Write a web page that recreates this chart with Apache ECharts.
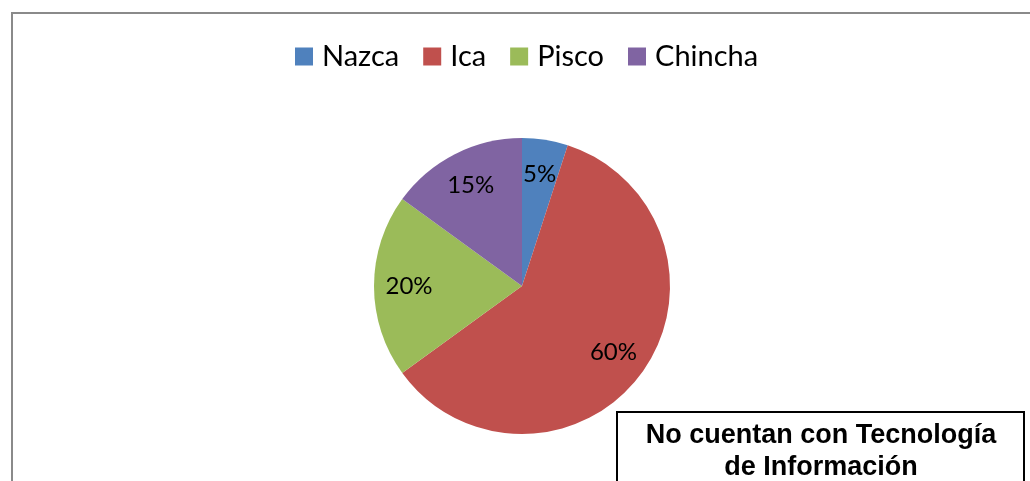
<!DOCTYPE html>
<html>
	<head>
		<meta charset="UTF-8">
		<title></title>
		<style>
			html, body { margin: 0; padding: 0; background: #fff; }
		</style>
	</head>
	<body>
		 <div id="main" style="width: 1030px;height:481px;"></div>
		 <script src="https://cdn.jsdelivr.net/npm/echarts@6/dist/echarts.min.js"></script>
		 <script>
		 	var categories = ['Nazca', 'Ica', 'Pisco', 'Chincha'];
		 	var values = [5, 60, 20, 15];
		 	var colors = ['#4F81BD', '#C0504D', '#9BBB59', '#8064A2'];
		 	var titleLines = ['No cuentan con Tecnología', 'de Información'];

		 	var pieData = categories.map(function (name, i) {
		 		return { name: name, value: values[i], itemStyle: { color: colors[i] } };
		 	});

		 	var chart = echarts.init(document.getElementById('main'));
		 	chart.setOption({
		 		animation: false,
		 		legend: {
		 			data: categories,
		 			left: 295,
		 			top: 42,
		 			padding: 0,
		 			itemWidth: 18,
		 			itemHeight: 18,
		 			itemGap: 24,
		 			icon: 'rect',
		 			textStyle: {
		 				fontFamily: 'Lato',
		 				fontSize: 29,
		 				color: '#000',
		 				padding: [0, 0, 0, 4]
		 			}
		 		},
		 		series: [{
		 			type: 'pie',
		 			center: [522, 286],
		 			radius: 148,
		 			startAngle: 90,
		 			clockwise: true,
		 			label: { show: false },
		 			labelLine: { show: false },
		 			itemStyle: { borderWidth: 0 },
		 			emphasis: { disabled: true },
		 			data: pieData
		 		}, {
		 			// transparent copy, only to put the labels at ~3/4 of the radius
		 			type: 'pie',
		 			center: [522, 286],
		 			radius: [72, 148],
		 			startAngle: 90,
		 			clockwise: true,
		 			silent: true,
		 			legendHoverLink: false,
		 			itemStyle: { color: 'rgba(0,0,0,0)', borderWidth: 0 },
		 			label: {
		 				show: true,
		 				position: 'inside',
		 				formatter: function (p) { return p.value + '%'; },
		 				fontFamily: 'Lato',
		 				fontSize: 24,
		 				color: '#000'
		 			},
		 			labelLine: { show: false },
		 			emphasis: { disabled: true },
		 			data: categories.map(function (name, i) {
		 				return { name: name + ' ', value: values[i] };
		 			})
		 		}],
		 		graphic: [{
		 			type: 'rect',
		 			shape: { x: 12, y: 13, width: 1040, height: 520 },
		 			style: { fill: null, stroke: '#8a8a8a', lineWidth: 2 },
		 			silent: true
		 		}, {
		 			type: 'rect',
		 			shape: { x: 617, y: 412, width: 407, height: 100 },
		 			style: { fill: '#fff', stroke: '#000', lineWidth: 2 },
		 			silent: true
		 		}, {
		 			type: 'text',
		 			x: 821,
		 			y: 420,
		 			style: {
		 				text: titleLines.join('\n'),
		 				fontFamily: 'Liberation Sans',
		 				fontWeight: 'bold',
		 				fontSize: 27,
		 				lineHeight: 32,
		 				fill: '#000',
		 				align: 'center',
		 				verticalAlign: 'top'
		 			},
		 			silent: true
		 		}]
		 	});
		 </script>
	</body>
</html>
